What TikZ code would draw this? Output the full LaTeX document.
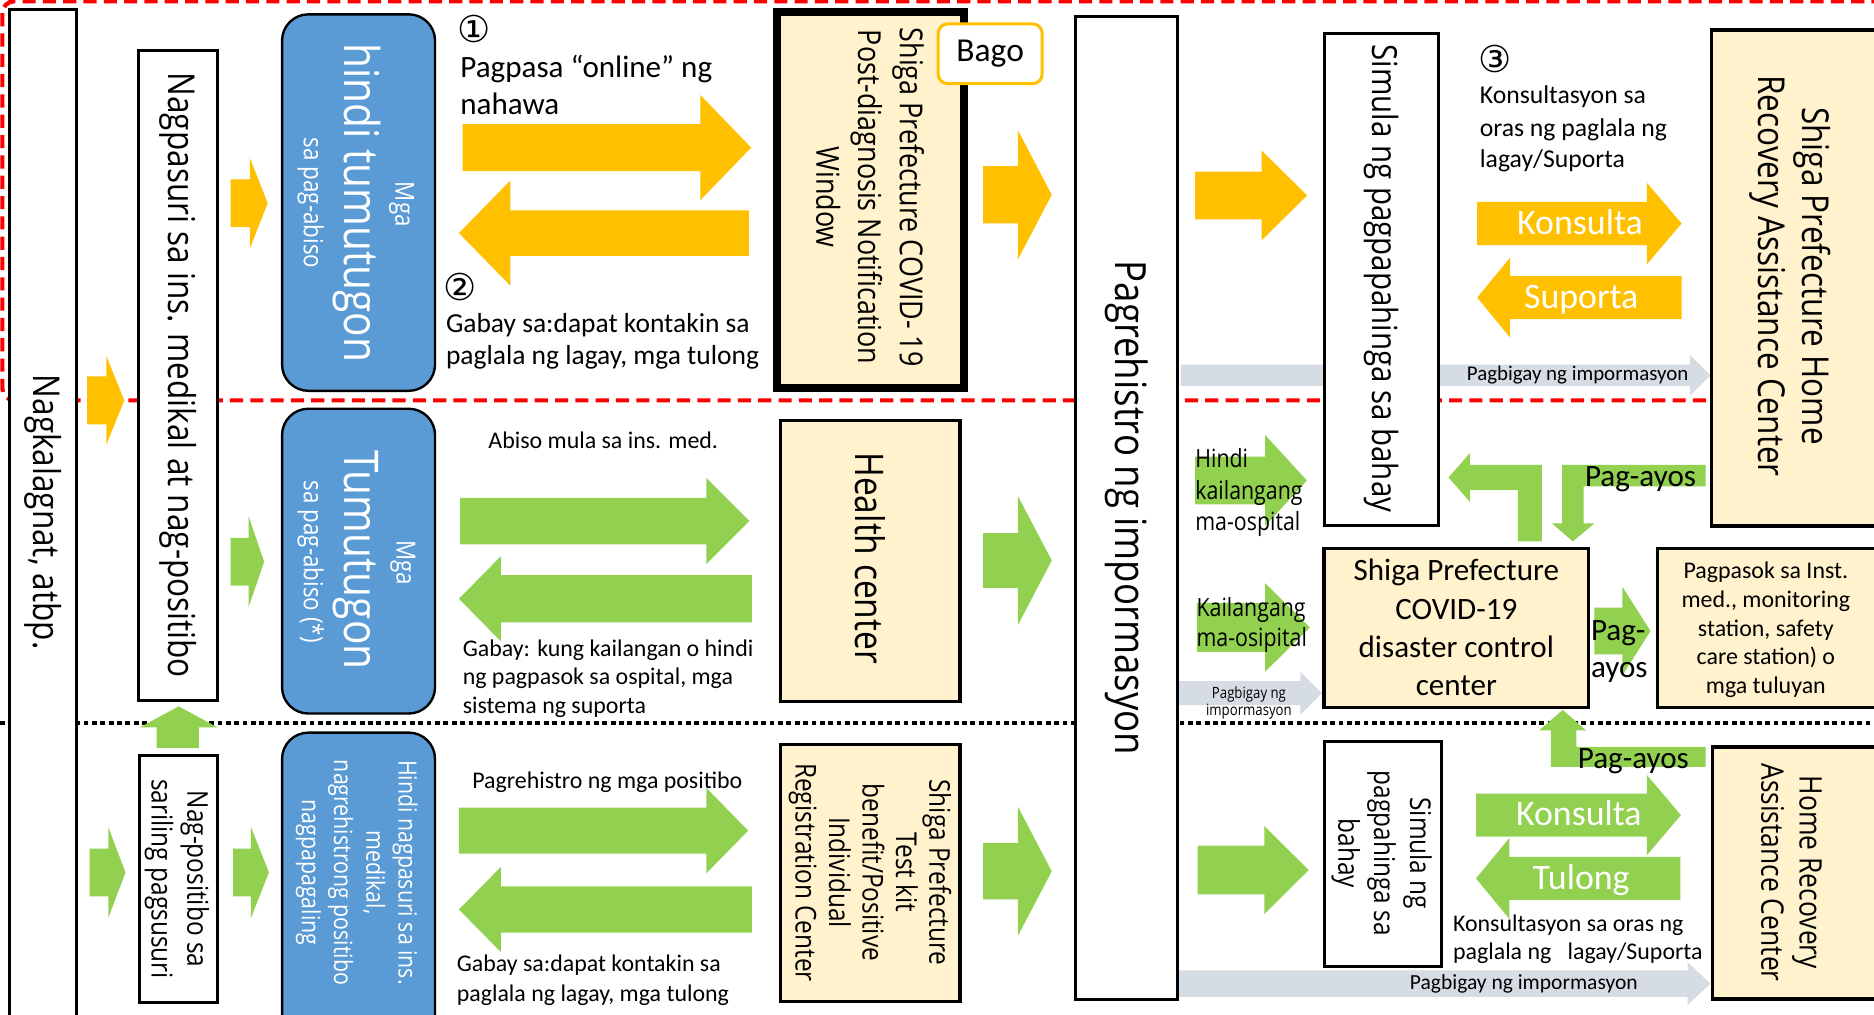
\documentclass[tikz,border=0pt]{standalone}
\usepackage{fontspec}
\setmainfont{Carlito}
\newfontfamily\wf[FakeStretch=0.85]{Open Sans}
\newfontfamily\djf{DejaVu Sans}
\definecolor{org}{HTML}{FFC000}
\definecolor{grn}{HTML}{92D050}
\definecolor{blu}{HTML}{5B9BD5}
\definecolor{lyel}{HTML}{FFF2CC}
\definecolor{gry}{HTML}{D6DCE4}
\definecolor{rd}{HTML}{FF0000}
\newcommand\fs[2]{\fontsize{#1}{#2}\selectfont}
% right-pointing block arrow: colour, x left, x head base, x tip, y centre, shaft half, head half
\newcommand\ArrR[7]{\fill[#1] (#2,{#5-#6}) -- (#3,{#5-#6}) -- (#3,{#5-#7}) -- (#4,#5) -- (#3,{#5+#7}) -- (#3,{#5+#6}) -- (#2,{#5+#6}) -- cycle;}
% left-pointing block arrow: colour, x tip, x head base, x right, y centre, shaft half, head half
\newcommand\ArrL[7]{\fill[#1] (#3,{#5-#6}) -- (#4,{#5-#6}) -- (#4,{#5+#6}) -- (#3,{#5+#6}) -- (#3,{#5+#7}) -- (#2,#5) -- (#3,{#5-#7}) -- cycle;}
\tikzset{
  bx/.style={draw=black, line width=2.5pt, fill=white},
  yb/.style={draw=black, line width=3pt, fill=lyel},
  bl/.style={draw=black, line width=2pt, fill=blu, rounded corners=22pt},
  txt/.style={inner sep=0pt, anchor=base west},
  rt/.style={rotate=-90, align=center, inner sep=0pt},
  ctr/.style={inner sep=0pt},
  circ/.style={inner sep=0pt, font={\djf\fs{31}{31}}},
}
\begin{document}
\begin{tikzpicture}[x=1pt,y=-1pt]
\useasboundingbox (0,0) rectangle (1568,849);
\clip (0,0) rectangle (1568,849);
\fill[white] (0,0) rectangle (1568,849);

% band separators
\draw[rd, line width=3.5pt, dash pattern=on 11pt off 6pt, rounded corners=10pt] (2,1) rectangle (1640,335);
\draw[line width=3.5pt, dash pattern=on 4pt off 3pt] (0,605) -- (1568,605);

% grey information arrows (behind boxes)
\ArrR{gry}{988}{1414}{1431}{314}{9}{17}
\ArrR{gry}{986}{1088}{1106}{580}{10}{18}
\ArrR{gry}{986}{1412}{1431}{823}{11}{18}

% boxes
\draw[bx, line width=3pt] (8,8) rectangle (64,880);
\draw[bx] (116,42) rectangle (182,586);
\draw[bx] (117,632) rectangle (182,839);
\draw[bl] (236,12) rectangle (364,327);
\draw[bl] (236,342) rectangle (364,597);
\draw[bl] (236,613) rectangle (364,900);
\draw[yb, line width=6.6pt] (650.3,10.3) rectangle (806.7,324.7);
\draw[draw=org, line width=2.5pt, fill=white, rounded corners=8pt] (785,20) rectangle (872,70);
\draw[yb] (653,352) rectangle (803,587);
\draw[yb] (653,623) rectangle (803,838);
\draw[bx] (900,14) rectangle (985,836);
\draw[bx] (1108,28) rectangle (1204,440);
\draw[bx] (1108,620) rectangle (1206,809);
\draw[yb] (1432,25) rectangle (1640,440);
\draw[yb] (1108,459) rectangle (1329,592);
\draw[yb] (1387,459) rectangle (1640,592);
\draw[yb] (1433,625) rectangle (1640,836);

% small arrows on the left
\ArrR{org}{73}{89}{104}{335}{20}{37}
\ArrR{org}{193}{209}{224}{170}{20}{38}
\ArrR{grn}{193}{208}{221}{470}{20}{38}
\ArrR{grn}{75}{90.6}{105}{730}{20}{38}
\ArrR{grn}{195}{210}{225}{730}{20}{38}
\fill[grn] (131,626) -- (131,608.6) -- (117,608.6) -- (149.5,591) -- (182,608.6) -- (166.5,608.6) -- (166.5,626) -- cycle;

% big double arrows
\ArrR{org}{387}{586}{628.5}{123.5}{19.6}{44}
\ArrL{org}{384}{427}{626.5}{195}{19}{44}
\ArrR{grn}{385}{591}{627}{436}{19.5}{36}
\ArrL{grn}{384}{419}{629}{501}{19.8}{35.5}
\ArrR{grn}{384}{591}{626}{695}{19.3}{35.7}
\ArrL{grn}{384}{419}{629}{761}{19.3}{35.5}

% arrows into / out of registration
\ArrR{org}{822.6}{851.7}{880}{163}{24}{54}
\ArrR{grn}{822.6}{851.7}{880}{469}{23}{54}
\ArrR{grn}{822.6}{851.7}{880}{729}{23.5}{54}
\ArrR{org}{1000}{1055.7}{1093.7}{163.5}{20}{37.5}
\ArrR{grn}{1000}{1058.6}{1093.5}{402}{20}{38}
\ArrR{grn}{1001.5}{1058.6}{1096}{525}{20.5}{37}
\ArrR{grn}{1002}{1058}{1095}{728}{20.4}{36.7}

% right cluster
\ArrR{org}{1236}{1378}{1407}{187}{18}{34}
\ArrL{org}{1236}{1263.6}{1407}{249}{18}{33.5}
\ArrR{grn}{1235}{1378}{1406.4}{682}{18}{33.5}
\ArrL{grn}{1235}{1263}{1406}{735}{18}{34}
\ArrR{grn}{1334}{1357.5}{1381}{528}{19.5}{37}
\fill[grn] (1290,453) -- (1290,389) -- (1230,389) -- (1230,379) -- (1212,399.5) -- (1230,420) -- (1230,410) -- (1270,410) -- (1270,453) -- cycle;
\fill[grn] (1427,389) -- (1307,389) -- (1307,438) -- (1298.6,438) -- (1316,453) -- (1334,438) -- (1325,438) -- (1325,407) -- (1427,407) -- cycle;
\fill[grn] (1427,625) -- (1319,625) -- (1319,611) -- (1327,611) -- (1307.5,594) -- (1288,611) -- (1297.6,611) -- (1297.6,641.6) -- (1427,641.6) -- cycle;

% ---------- texts ----------
\node[rt, font={\wf\fs{31}{37}}] (tnag) at (36,428.5) {Nagkalagnat, atbp.};
\node[rt, font={\wf\fs{31}{37}}] (tnpsr) at (149,314) {Nagpasuri sa ins. medikal at nag-positibo};
\node[rt, font={\wf\fs{24}{30}}] (tnpos) at (148,735.5) {Nag-positibo sa\\sariling pagsusuri};

\node[rt, text=white, font={\wf\fs{22}{24}}] (b1a) at (336,171) {Mga};
\node[rt, text=white, font={\wf\fs{40}{44}}] (b1b) at (299,169.5) {hindi tumutugon};
\node[rt, text=white, font={\wf\fs{22}{26}}] (b1c) at (260,170) {sa pag-abiso};
\node[rt, text=white, font={\wf\fs{22}{24}}] (b2a) at (337,471) {Mga};
\node[rt, text=white, font={\wf\fs{40}{44}}] (b2b) at (297.6,468.5) {Tumutugon};
\node[rt, text=white, font={\wf\fs{22}{26}}] (b2c) at (260,470) {sa pag-abiso (*)};
\node[rt, text=white, font={\wf\fs{21}{27}}] (b3) at (298.5,730) {Hindi nagpasuri sa ins.\\medikal,\\nagrehistrong positibo\\nagpapagaling};

\node[circ] (c1) at (397,24) {①};
\node[txt, font={\fs{26}{31}}] (l1a) at (385,65) {Pagpasa “online” ng};
\node[txt, font={\fs{26}{31}}] (l1b) at (385,96) {nahawa};
\node[circ] (c2) at (385,240) {②};
\node[txt, font={\fs{23}{28}}] (g1a) at (373,278) {Gabay sa:dapat kontakin sa};
\node[txt, font={\fs{23}{28}}] (g1b) at (373,305) {paglala ng lagay, mga tulong};

\node[txt, font={\fs{20}{24}}] (abiso) at (408.5,375) {Abiso mula sa ins. med.};
\node[txt, font={\fs{20}{24}}] (g2a) at (387,549.5) {Gabay: kung kailangan o hindi};
\node[txt, font={\fs{20}{24}}] (g2b) at (387,573) {ng pagpasok sa ospital, mga};
\node[txt, font={\fs{20}{24}}] (g2c) at (387,597) {sistema ng suporta};

\node[txt, font={\fs{20}{24}}] (preg) at (395,660) {Pagrehistro ng mga positibo};
\node[txt, font={\fs{20}{25}}] (g3a) at (382,813) {Gabay sa:dapat kontakin sa};
\node[txt, font={\fs{20}{25}}] (g3b) at (382,838) {paglala ng lagay, mga tulong};

\node[rt, font={\wf\fs{26.5}{35}}] (pdw) at (728,165) {Shiga Prefecture COVID- 19\\Post-diagnosis Notification\\Window};
\node[ctr, font={\fs{28}{28}}] (bago) at (828.5,45) {Bago};
\node[rt, font={\wf\fs{33}{38}}] (hc) at (728,467) {Health center};
\node[rt, font={\wf\fs{24}{28}}] (tk) at (728,730) {Shiga Prefecture\\Test kit\\benefit/Positive\\Individual\\Registration Center};
\node[rt, font={\wf\fs{36}{40}}] (preginfo) at (942.5,425) {Pagrehistro ng impormasyon};
\node[rt, font={\wf\fs{29}{34}}] (sim1) at (1156,233) {Simula ng pagpapahinga sa bahay};
\node[rt, font={\wf\fs{24}{30}}] (sim2) at (1156,714) {Simula ng\\pagpahinga sa\\bahay};
\node[rt, font={\wf\fs{31}{37}}] (shc) at (1498,231) {Shiga Prefecture Home\\Recovery Assistance Center};
\node[rt, font={\wf\fs{26}{32}}] (hrc) at (1499,730) {Home Recovery\\Assistance Center};

\node[circ] (c3) at (1251,49) {③};
\node[txt, font={\fs{21.5}{26}}] (k1) at (1238,87) {Konsultasyon sa};
\node[txt, font={\fs{21.5}{26}}] (k2) at (1238,114) {oras ng paglala ng};
\node[txt, font={\fs{21.5}{26}}] (k3) at (1238,140) {lagay/Suporta};
\node[inner sep=0pt, anchor=base, text=white, font={\fs{30}{30}}] (kons1) at (1322,196) {Konsulta};
\node[inner sep=0pt, anchor=base, text=white, font={\fs{30}{30}}] (sup) at (1323,258) {Suporta};
\node[inner sep=0pt, anchor=base, text=white, font={\fs{30}{30}}] (kons2) at (1321,691) {Konsulta};
\node[inner sep=0pt, anchor=base, text=white, font={\fs{30}{30}}] (tul) at (1323,744) {Tulong};
\node[txt, font={\fs{20}{24}}] (k4) at (1215.6,779.6) {Konsultasyon sa oras ng};
\node[txt, font={\fs{20}{24}}] (k5) at (1215.6,803) {paglala ng \ \ lagay/Suporta};

\node[txt, font={\fs{26}{30}}] (pa1) at (1326,407) {Pag-ayos};
\node[txt, font={\fs{26}{30}}] (pa2) at (1320,643) {Pag-ayos};
\node[txt, font={\fs{26}{30}}] (pa3) at (1331,535.6) {Pag-};
\node[txt, font={\fs{26}{30}}] (pa4) at (1331,566.5) {ayos};

\node[ctr, align=center, font={\fs{26}{32}}] (dcc) at (1218.5,525) {Shiga Prefecture\\COVID-19\\disaster control\\center};
\node[ctr, align=center, font={\fs{20}{24}}] (ppk) at (1477.5,527) {Pagpasok sa Inst.\\med., monitoring\\station, safety\\care station) o\\mga tuluyan};

\node[txt, font={\wf\fs{21}{26}}] (hk1) at (1000,391) {Hindi};
\node[txt, font={\wf\fs{21}{26}}] (hk2) at (1000,418) {kailangang};
\node[txt, font={\wf\fs{21}{26}}] (hk3) at (1000,444) {ma-ospital};
\node[txt, font={\wf\fs{21}{26}}] (kk1) at (1001,516) {Kailangang};
\node[txt, font={\wf\fs{21}{26}}] (kk2) at (1001,541) {ma-osipital};

\node[ctr, font={\fs{17.5}{20}}] (pi1) at (1320,314) {Pagbigay ng impormasyon};
\node[ctr, align=center, font={\wf\fs{13}{14}}] (pi2) at (1045,588) {Pagbigay ng\\impormasyon};
\node[ctr, font={\fs{18}{20}}] (pi3) at (1275,823) {Pagbigay ng impormasyon};
\end{tikzpicture}
\end{document}
